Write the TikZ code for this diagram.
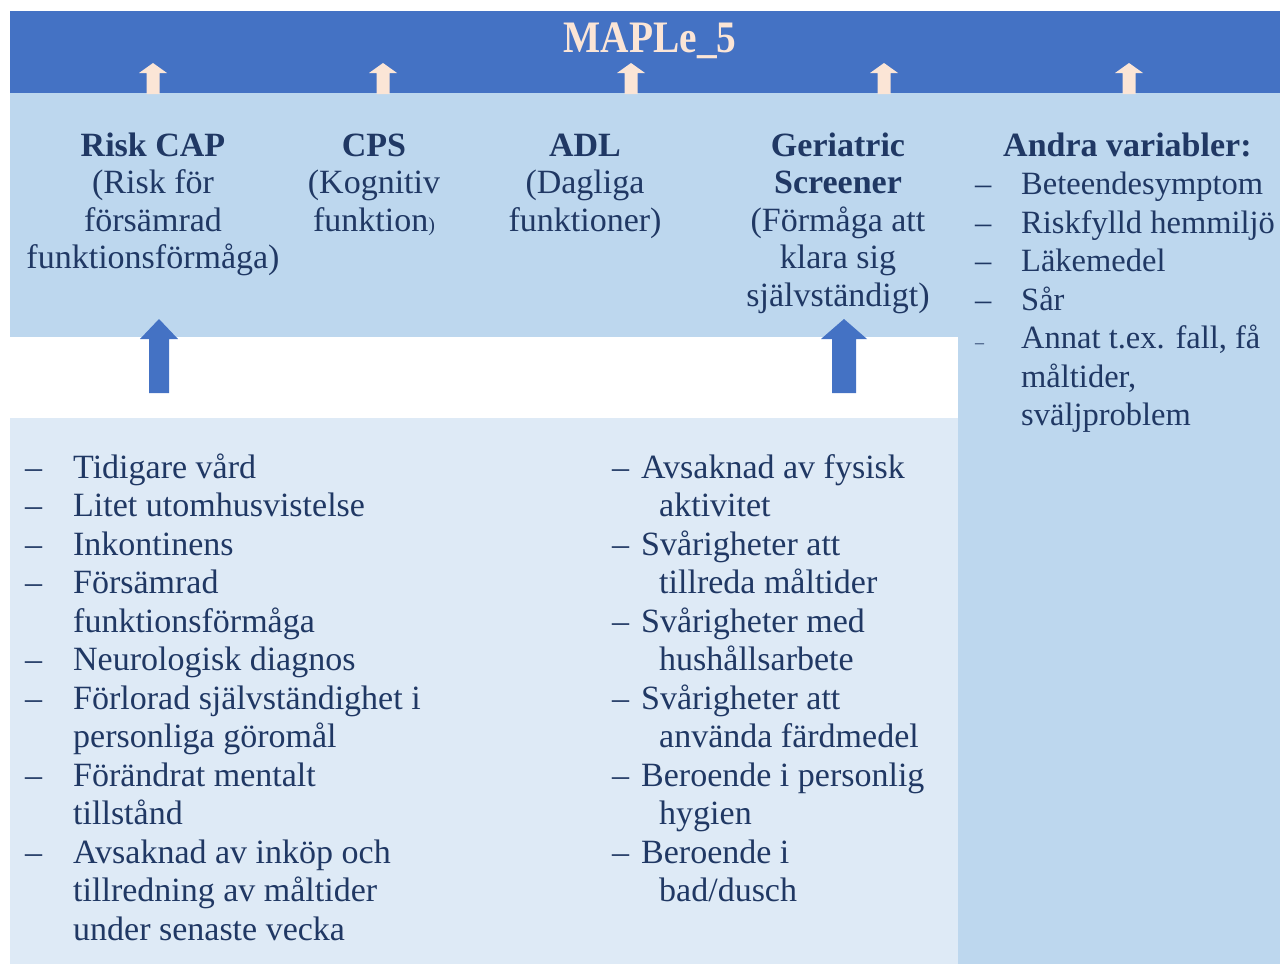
\documentclass[tikz,border=0pt]{standalone}
\usepackage{fontspec}
\setmainfont{Liberation Serif}
\usepackage{graphicx}
\usepackage{tikz}
\usetikzlibrary{calc, positioning}

\definecolor{bannerblue}{HTML}{4472C4}
\definecolor{panelblue}{HTML}{BDD7EE}
\definecolor{listblue}{HTML}{DEEAF6}
\definecolor{navy}{HTML}{203864}
\definecolor{cream}{HTML}{FBE5D6}

% Block arrow pointing up: colour, x, tip y, tail y, head half width, shaft half width, head length
\newcommand{\uparrowblock}[7]{%
  \fill[#1] ({#2-#6},#4) -- ({#2-#6},{#3+#7}) -- ({#2-#5},{#3+#7}) -- (#2,#3)
    -- ({#2+#5},{#3+#7}) -- ({#2+#6},{#3+#7}) -- ({#2+#6},#4) -- cycle;}

\tikzset{
  % Title in the banner
  tnode/.style={text=cream, inner sep=0pt, anchor=base,
    font=\fontsize{45}{45}\selectfont\bfseries},
  % Header node (centred column titles)
  hnode/.style={text=navy, inner sep=0pt, anchor=base,
    font=\fontsize{34}{37.5}\selectfont},
  % List node
  lnode/.style={text=navy, inner sep=0pt, anchor=base west,
    font=\fontsize{34}{38.5}\selectfont},
}

\begin{document}
\begin{tikzpicture}[x=1pt, y=-1pt]
  \useasboundingbox (0,0) rectangle (1280,964);

  % Panels
  \fill[bannerblue] (10,11) rectangle (1280,93);
  \fill[panelblue] (10,93) rectangle (1280,337);
  \fill[panelblue] (958,337) rectangle (1280,964);
  \fill[listblue] (10,418) rectangle (958,964);

  % Small arrows into the banner
  \uparrowblock{cream}{153}{63}{94}{14}{6.5}{10}
  \uparrowblock{cream}{383}{63}{94}{14}{6.5}{10}
  \uparrowblock{cream}{631}{63}{94}{14}{6.5}{10}
  \uparrowblock{cream}{884}{63}{94}{14}{6.5}{10}
  \uparrowblock{cream}{1129}{63}{94}{14}{6.5}{10}

  % Big arrows from the lists
  \uparrowblock{bannerblue}{159}{319}{393}{19}{10}{20}
  \uparrowblock{bannerblue}{844}{319}{393}{23}{12}{20}

  \node[tnode] (title) at (650,52) {\scalebox{0.875}[1]{MAPLe\_5}};

  % Headers
  \node[hnode] (riskcap) at (153,156) {\begin{tabular}[t]{@{}c@{}}
      \textbf{Risk CAP}\\ (Risk för\\ försämrad\\ funktionsförmåga)\end{tabular}};
  \node[hnode] (cps) at (374,156) {\begin{tabular}[t]{@{}c@{}}
      \textbf{CPS}\\ (Kognitiv\\ funktion{\fontsize{20}{20}\selectfont)}\end{tabular}};
  \node[hnode] (adl) at (585,156) {\begin{tabular}[t]{@{}c@{}}
      \textbf{ADL}\\ (Dagliga\\ funktioner)\end{tabular}};
  \node[hnode] (gs) at (838,156) {\begin{tabular}[t]{@{}c@{}}
      \textbf{Geriatric}\\ \textbf{Screener}\\ (Förmåga att\\ klara sig\\
      självständigt)\end{tabular}};
  \node[hnode, anchor=base west] (andra) at (1003,156) {\textbf{Andra variabler:}};

  % Other variables
  \node[lnode, font=\fontsize{32.5}{38.5}\selectfont] (otherlist) at (975,194.5)
    {\begin{tabular}[t]{@{}p{46pt}@{}l@{}}
      – & Beteendesymptom\\
      – & Riskfylld hemmiljö\\
      – & Läkemedel\\
      – & Sår\\
      {\fontsize{18}{18}\selectfont –} & Annat t.ex. fall, få\\
        & måltider,\\
        & sväljproblem\end{tabular}};

  % Items behind Risk CAP
  \node[lnode] (leftlist) at (25,478) {\begin{tabular}[t]{@{}p{48pt}@{}l@{}}
      – & Tidigare vård\\
      – & Litet utomhusvistelse\\
      – & Inkontinens\\
      – & Försämrad\\
        & funktionsförmåga\\
      – & Neurologisk diagnos\\
      – & Förlorad självständighet i\\
        & personliga göromål\\
      – & Förändrat mentalt\\
        & tillstånd\\
      – & Avsaknad av inköp och\\
        & tillredning av måltider\\
        & under senaste vecka\end{tabular}};

  % Items behind Geriatric Screener
  \node[lnode] (midlist) at (612,478) {\begin{tabular}[t]{@{}p{29pt}@{}l@{}}
      – & Avsaknad av fysisk\\
        & \hspace{18pt}aktivitet\\
      – & Svårigheter att\\
        & \hspace{18pt}tillreda måltider\\
      – & Svårigheter med\\
        & \hspace{18pt}hushållsarbete\\
      – & Svårigheter att\\
        & \hspace{18pt}använda färdmedel\\
      – & Beroende i personlig\\
        & \hspace{18pt}hygien\\
      – & Beroende i\\
        & \hspace{18pt}bad/dusch\end{tabular}};
\end{tikzpicture}
\end{document}
